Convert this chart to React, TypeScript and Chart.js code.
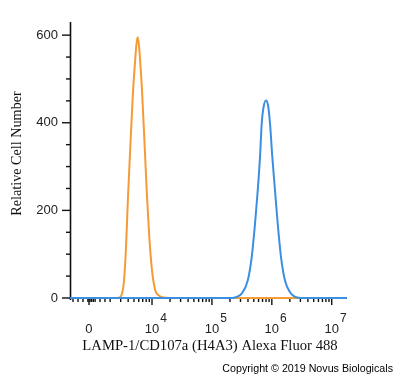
import React, { useEffect, useRef } from 'react';
import { Chart, registerables } from 'chart.js';

Chart.register(...registerables);

// ---- data -------------------------------------------------------------
// x is the display position on the biexponential axis, in decades (4 = 10^4)
const orangeX = [2.631, 3.399, 3.449, 3.482, 3.508, 3.533, 3.566, 3.599, 3.638, 3.678, 3.711, 3.741, 3.761, 3.783, 3.805, 3.833, 3.878, 3.917, 3.955, 4.0, 4.055, 4.1, 4.167, 4.3, 7.255];
const orangeY = [0, 0, 1, 4, 15, 40, 116, 230, 345, 459, 528, 580, 595, 575, 535, 474, 345, 230, 139, 63, 17, 7, 2, 0, 0];

const blueX = [2.631, 5.336, 5.402, 5.497, 5.598, 5.664, 5.72, 5.765, 5.803, 5.831, 5.861, 5.903, 5.937, 5.97, 6.008, 6.053, 6.098, 6.154, 6.22, 6.304, 6.371, 6.421, 6.471, 7.255];
const blueY = [0, 0, 2, 10, 40, 93, 170, 246, 322, 398, 435, 451, 440, 398, 322, 246, 170, 93, 40, 13, 4, 1, 0, 0];

const xMin = 2.631;
const xMax = 7.255;
const yMax = 630;

const xMajorTicks = [2.948, 4, 5, 6, 7];
const xMajorLabels = ['0', '10', '10', '10', '10'];
const xMajorSup = ['', '4', '5', '6', '7'];
const xNearZeroTicks = [2.681, 2.765, 2.848, 2.93, 2.965, 2.99, 3.02, 3.05, 3.132, 3.215];

const yMajorTicks = [0, 200, 400, 600];
const yMinorTicks = [50, 100, 150, 250, 300, 350, 450, 500, 550];

const xTitle = 'LAMP-1/CD107a (H4A3) Alexa Fluor 488';
const yTitle = 'Relative Cell Number';
const credit = 'Copyright \u00A9 2019 Novus Biologicals';

const ORANGE = '#F49B35';
const BLUE = '#3A8FE2';

const logMinors: number[] = [];
for (const d of [3, 4, 5, 6]) {
  for (let k = 2; k <= 9; k++) {
    const v = d + Math.log10(k);
    if (v < xMax) logMinors.push(v);
  }
}

const framePlugin = {
  id: 'frame',
  beforeDatasetsDraw(chart: any) {
    const { ctx, chartArea: a, scales } = chart;
    const x = scales.x;
    const y = scales.y;
    ctx.save();
    ctx.strokeStyle = '#111';
    ctx.lineWidth = 1.6;
    ctx.beginPath();
    ctx.moveTo(a.left + 0.5, a.top);
    ctx.lineTo(a.left + 0.5, a.bottom + 2);
    ctx.stroke();
    ctx.beginPath();
    ctx.moveTo(a.left, a.bottom);
    ctx.lineTo(a.right, a.bottom);
    ctx.stroke();

    ctx.lineWidth = 1.4;
    for (const v of yMajorTicks) {
      const py = y.getPixelForValue(v);
      ctx.beginPath();
      ctx.moveTo(a.left - 8, py);
      ctx.lineTo(a.left, py);
      ctx.stroke();
    }
    for (const v of yMinorTicks) {
      const py = y.getPixelForValue(v);
      ctx.beginPath();
      ctx.moveTo(a.left - 4, py);
      ctx.lineTo(a.left, py);
      ctx.stroke();
    }
    for (const v of xMajorTicks) {
      const px = x.getPixelForValue(v);
      ctx.beginPath();
      ctx.moveTo(px, a.bottom);
      ctx.lineTo(px, a.bottom + 7);
      ctx.stroke();
    }
    for (const v of [...logMinors, ...xNearZeroTicks]) {
      const px = x.getPixelForValue(v);
      ctx.beginPath();
      ctx.moveTo(px, a.bottom);
      ctx.lineTo(px, a.bottom + 4);
      ctx.stroke();
    }
    ctx.restore();
  },
  afterDraw(chart: any) {
    const { ctx, chartArea: a, scales } = chart;
    const x = scales.x;
    const y = scales.y;
    ctx.save();
    ctx.fillStyle = '#222';
    ctx.font = '13px "Liberation Sans", Arial, sans-serif';
    ctx.textAlign = 'right';
    ctx.textBaseline = 'middle';
    for (const v of yMajorTicks) {
      ctx.fillText(String(v), a.left - 12, y.getPixelForValue(v));
    }
    ctx.textBaseline = 'alphabetic';
    xMajorTicks.forEach((v, i) => {
      const px = x.getPixelForValue(v);
      ctx.font = '13px "Liberation Sans", Arial, sans-serif';
      ctx.textAlign = 'center';
      ctx.fillText(xMajorLabels[i], px, 333);
      if (xMajorSup[i]) {
        const w = ctx.measureText(xMajorLabels[i]).width;
        ctx.font = '12px "Liberation Sans", Arial, sans-serif';
        ctx.textAlign = 'left';
        ctx.fillText(xMajorSup[i], px + w / 2 + 1, 322);
      }
    });

    ctx.fillStyle = '#111';
    ctx.font = '14.7px "Liberation Serif", "Times New Roman", serif';
    ctx.textAlign = 'center';
    ctx.fillText(xTitle, 210, 350);

    ctx.save();
    ctx.translate(17.5, 153.5);
    ctx.rotate(-Math.PI / 2);
    ctx.textBaseline = 'middle';
    ctx.font = '14.2px "Liberation Serif", "Times New Roman", serif';
    ctx.fillText(yTitle, 0, 0);
    ctx.restore();

    ctx.fillStyle = '#000';
    ctx.font = '10.7px "Liberation Sans", Arial, sans-serif';
    ctx.textAlign = 'right';
    ctx.fillText(credit, 393, 372);
    ctx.restore();
  },
};

export default function App() {
  const ref = useRef<HTMLCanvasElement | null>(null);
  useEffect(() => {
    if (!ref.current) return;
    const chart = new Chart(ref.current, {
      type: 'line',
      data: {
        datasets: [
          {
            label: 'LAMP-1',
            data: blueX.map((v, i) => ({ x: v, y: blueY[i] })),
            borderColor: BLUE,
            borderWidth: 2,
            pointRadius: 0,
            cubicInterpolationMode: 'monotone',
            clip: false,
            fill: false,
          },
          {
            label: 'Isotype',
            data: orangeX.map((v, i) => ({ x: v, y: orangeY[i] })),
            borderColor: ORANGE,
            borderWidth: 2,
            pointRadius: 0,
            cubicInterpolationMode: 'monotone',
            clip: false,
            fill: false,
          },
        ],
      },
      options: {
        responsive: false,
        animation: false,
        devicePixelRatio: 1,
        layout: { padding: { left: 70, right: 53, top: 22, bottom: 80 } },
        plugins: { legend: { display: false }, tooltip: { enabled: false } },
        scales: {
          x: { type: 'linear', min: xMin, max: xMax, display: false },
          y: { type: 'linear', min: 0, max: yMax, display: false },
        },
      },
      plugins: [framePlugin],
    } as any);
    return () => chart.destroy();
  }, []);
  return (
    <div style={{ position: 'absolute', left: 0, top: 0, width: 400, height: 378, background: '#fff' }}>
      <canvas ref={ref} width={400} height={378} />
    </div>
  );
}
